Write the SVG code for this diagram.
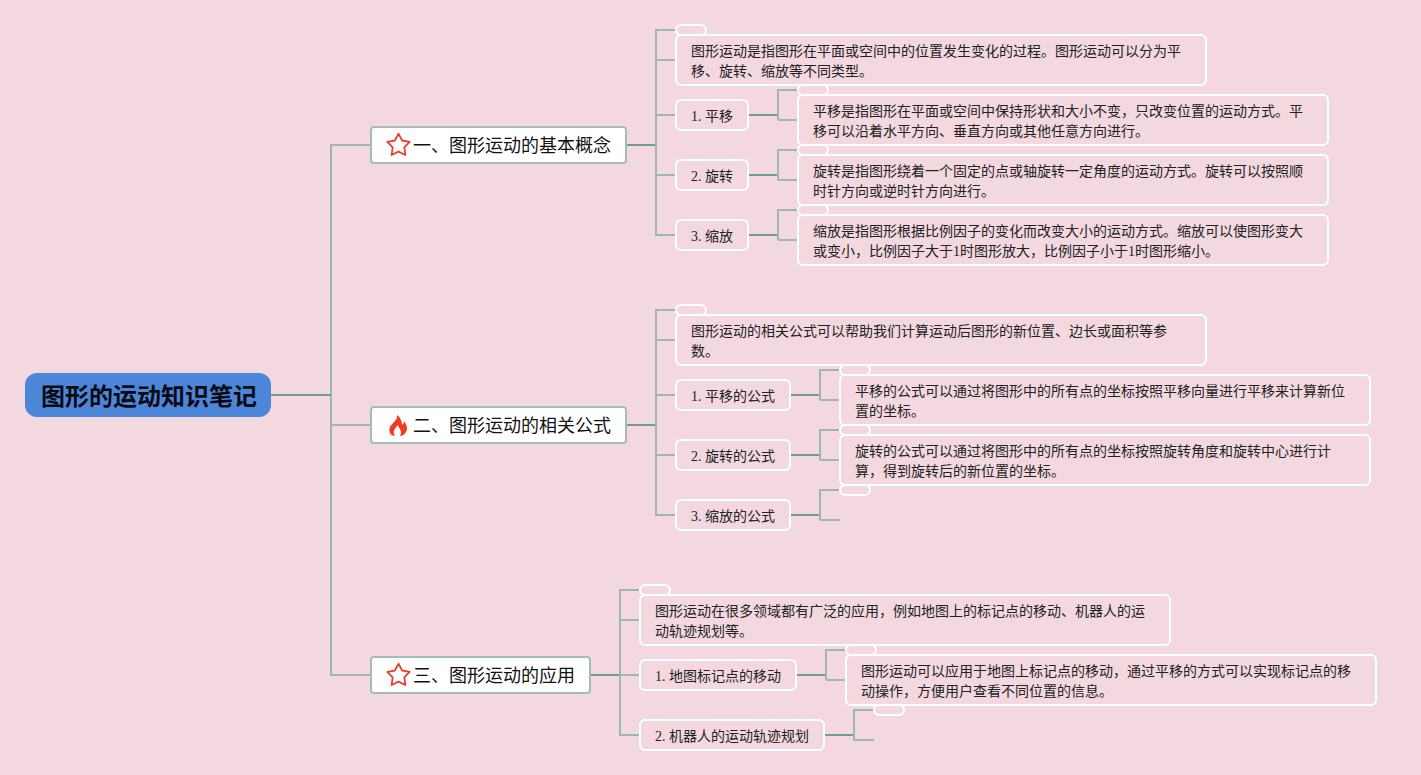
<svg xmlns="http://www.w3.org/2000/svg" xmlns:xlink="http://www.w3.org/1999/xlink" width="1421" height="775" viewBox="0 0 1421 775">
<style>
text{font-family:"Liberation Serif","Noto Sans CJK SC",sans-serif;fill:#222;font-size:14px}
.root{fill:#4c86d8}
.rt{font-size:24px;font-weight:bold;fill:#0a0a14}
.main{fill:#fff;stroke:#a3bdb3;stroke-width:2}
.mt{font-size:18px;fill:#111}
.box{fill:none;stroke:#fff;stroke-width:2}
.l{fill:none;stroke:#9db8ae;stroke-width:2}
.d{fill:none;stroke:#6f9e8f;stroke-width:2}
.s{fill:#fff;stroke:#e8402e;stroke-width:1.800;stroke-linejoin:round}
</style>
<defs>
<path id="star" class="s" d="M0 -11.800L3.600 -5L11.200 -3.700L5.800 1.800L6.900 9.500L0 6.100L-6.900 9.500L-5.800 1.800L-11.200 -3.700L-3.600 -5Z"/>
</defs>
<rect width="1421" height="775" fill="#f3d8e0"/>
<g id="connectors">
<path class="l" d="M331 395V145H371M331 425H371M331 395V675H371"/>
<path class="d" d="M271 395H331"/>
<path class="d" d="M626 145H656"/>
<path class="l" d="M656 145V30H676M656 60H676M656 115H676M656 175H676M656 145V235H676"/>
<path class="d" d="M748 115H778M748 175H778M748 235H778"/>
<path class="l" d="M778 120V90H798M778 120H798M778 180V150H798M778 180H798M778 240V210H798M778 240H798"/>
<path class="d" d="M626 425H656"/>
<path class="l" d="M656 425V310H676M656 340H676M656 395H676M656 455H676M656 425V515H676"/>
<path class="d" d="M790 395H820M790 455H820M790 515H820"/>
<path class="l" d="M820 400V370H840M820 400H840M820 460V430H840M820 460H840M820 520V490H840M820 520H840"/>
<path class="d" d="M590 675H620"/>
<path class="l" d="M620 675V590H640M620 620H640M620 675H640M620 675V735H640"/>
<path class="d" d="M796 675H826M824 735H854"/>
<path class="l" d="M826 680V650H846M826 680H846M854 740V710H874M854 740H874"/>
</g>
<g id="root"><rect class="root" x="25" y="373" width="246" height="44" rx="12"/><text class="rt" x="41" y="405">图形的运动知识笔记</text></g>
<g id="n1"><rect class="main" x="371" y="127" width="255" height="36" rx="3"/><use xlink:href="#star" href="#star" x="398.500" y="145.500"/><text class="mt" x="413" y="152">一、图形运动的基本概念</text></g>
<g id="n2"><rect class="main" x="371" y="407" width="255" height="36" rx="3"/><path d="M397 415C398 420 392 423 390 427C388 432 391 436 395 436C392 432 395 428 398 425C399 429 403 431 400 436C404 436 407 432 407 428C407 425 405 423 404 421C404 423 403 424 402 425C402 421 400 417 397 415Z" fill="#ef3a1d"/><text class="mt" x="413" y="432">二、图形运动的相关公式</text></g>
<g id="n3"><rect class="main" x="371" y="657" width="219" height="36" rx="3"/><use xlink:href="#star" href="#star" x="398.500" y="675.500"/><text class="mt" x="413" y="682">三、图形运动的应用</text></g>

<g id="a0"><rect class="box" x="676" y="25" width="30" height="10" rx="5"/></g>
<g id="a1"><rect class="box" x="676" y="35" width="530" height="50" rx="5"/><text x="691" y="56">图形运动是指图形在平面或空间中的位置发生变化的过程。图形运动可以分为平</text><text x="691" y="76">移、旋转、缩放等不同类型。</text></g>
<g id="a2"><rect class="box" x="676" y="100" width="72" height="30" rx="5"/><text x="691" y="121">1. 平移</text></g>
<g id="a2t"><rect class="box" x="798" y="85" width="30" height="10" rx="5"/></g>
<g id="a2d"><rect class="box" x="798" y="95" width="530" height="50" rx="5"/><text x="813" y="116">平移是指图形在平面或空间中保持形状和大小不变，只改变位置的运动方式。平</text><text x="813" y="136">移可以沿着水平方向、垂直方向或其他任意方向进行。</text></g>
<g id="a3"><rect class="box" x="676" y="160" width="72" height="30" rx="5"/><text x="691" y="181">2. 旋转</text></g>
<g id="a3t"><rect class="box" x="798" y="145" width="30" height="10" rx="5"/></g>
<g id="a3d"><rect class="box" x="798" y="155" width="530" height="50" rx="5"/><text x="813" y="176">旋转是指图形绕着一个固定的点或轴旋转一定角度的运动方式。旋转可以按照顺</text><text x="813" y="196">时针方向或逆时针方向进行。</text></g>
<g id="a4"><rect class="box" x="676" y="220" width="72" height="30" rx="5"/><text x="691" y="241">3. 缩放</text></g>
<g id="a4t"><rect class="box" x="798" y="205" width="30" height="10" rx="5"/></g>
<g id="a4d"><rect class="box" x="798" y="215" width="530" height="50" rx="5"/><text x="813" y="236">缩放是指图形根据比例因子的变化而改变大小的运动方式。缩放可以使图形变大</text><text x="813" y="256">或变小，比例因子大于1时图形放大，比例因子小于1时图形缩小。</text></g>

<g id="b0"><rect class="box" x="676" y="305" width="30" height="10" rx="5"/></g>
<g id="b1"><rect class="box" x="676" y="315" width="530" height="50" rx="5"/><text x="691" y="336">图形运动的相关公式可以帮助我们计算运动后图形的新位置、边长或面积等参</text><text x="691" y="356">数。</text></g>
<g id="b2"><rect class="box" x="676" y="380" width="114" height="30" rx="5"/><text x="691" y="401">1. 平移的公式</text></g>
<g id="b2t"><rect class="box" x="840" y="365" width="30" height="10" rx="5"/></g>
<g id="b2d"><rect class="box" x="840" y="375" width="530" height="50" rx="5"/><text x="855" y="396">平移的公式可以通过将图形中的所有点的坐标按照平移向量进行平移来计算新位</text><text x="855" y="416">置的坐标。</text></g>
<g id="b3"><rect class="box" x="676" y="440" width="114" height="30" rx="5"/><text x="691" y="461">2. 旋转的公式</text></g>
<g id="b3t"><rect class="box" x="840" y="425" width="30" height="10" rx="5"/></g>
<g id="b3d"><rect class="box" x="840" y="435" width="530" height="50" rx="5"/><text x="855" y="456">旋转的公式可以通过将图形中的所有点的坐标按照旋转角度和旋转中心进行计</text><text x="855" y="476">算，得到旋转后的新位置的坐标。</text></g>
<g id="b4"><rect class="box" x="676" y="500" width="114" height="30" rx="5"/><text x="691" y="521">3. 缩放的公式</text></g>
<g id="b4t"><rect class="box" x="840" y="485" width="30" height="10" rx="5"/></g>

<g id="c0"><rect class="box" x="640" y="585" width="30" height="10" rx="5"/></g>
<g id="c1"><rect class="box" x="640" y="595" width="530" height="50" rx="5"/><text x="655" y="616">图形运动在很多领域都有广泛的应用，例如地图上的标记点的移动、机器人的运</text><text x="655" y="636">动轨迹规划等。</text></g>
<g id="c2"><rect class="box" x="640" y="660" width="156" height="30" rx="5"/><text x="655" y="681">1. 地图标记点的移动</text></g>
<g id="c2t"><rect class="box" x="846" y="645" width="30" height="10" rx="5"/></g>
<g id="c2d"><rect class="box" x="846" y="655" width="530" height="50" rx="5"/><text x="861" y="676">图形运动可以应用于地图上标记点的移动，通过平移的方式可以实现标记点的移</text><text x="861" y="696">动操作，方便用户查看不同位置的信息。</text></g>
<g id="c3"><rect class="box" x="640" y="720" width="184" height="30" rx="5"/><text x="655" y="741">2. 机器人的运动轨迹规划</text></g>
<g id="c3t"><rect class="box" x="874" y="705" width="30" height="10" rx="5"/></g>
</svg>
